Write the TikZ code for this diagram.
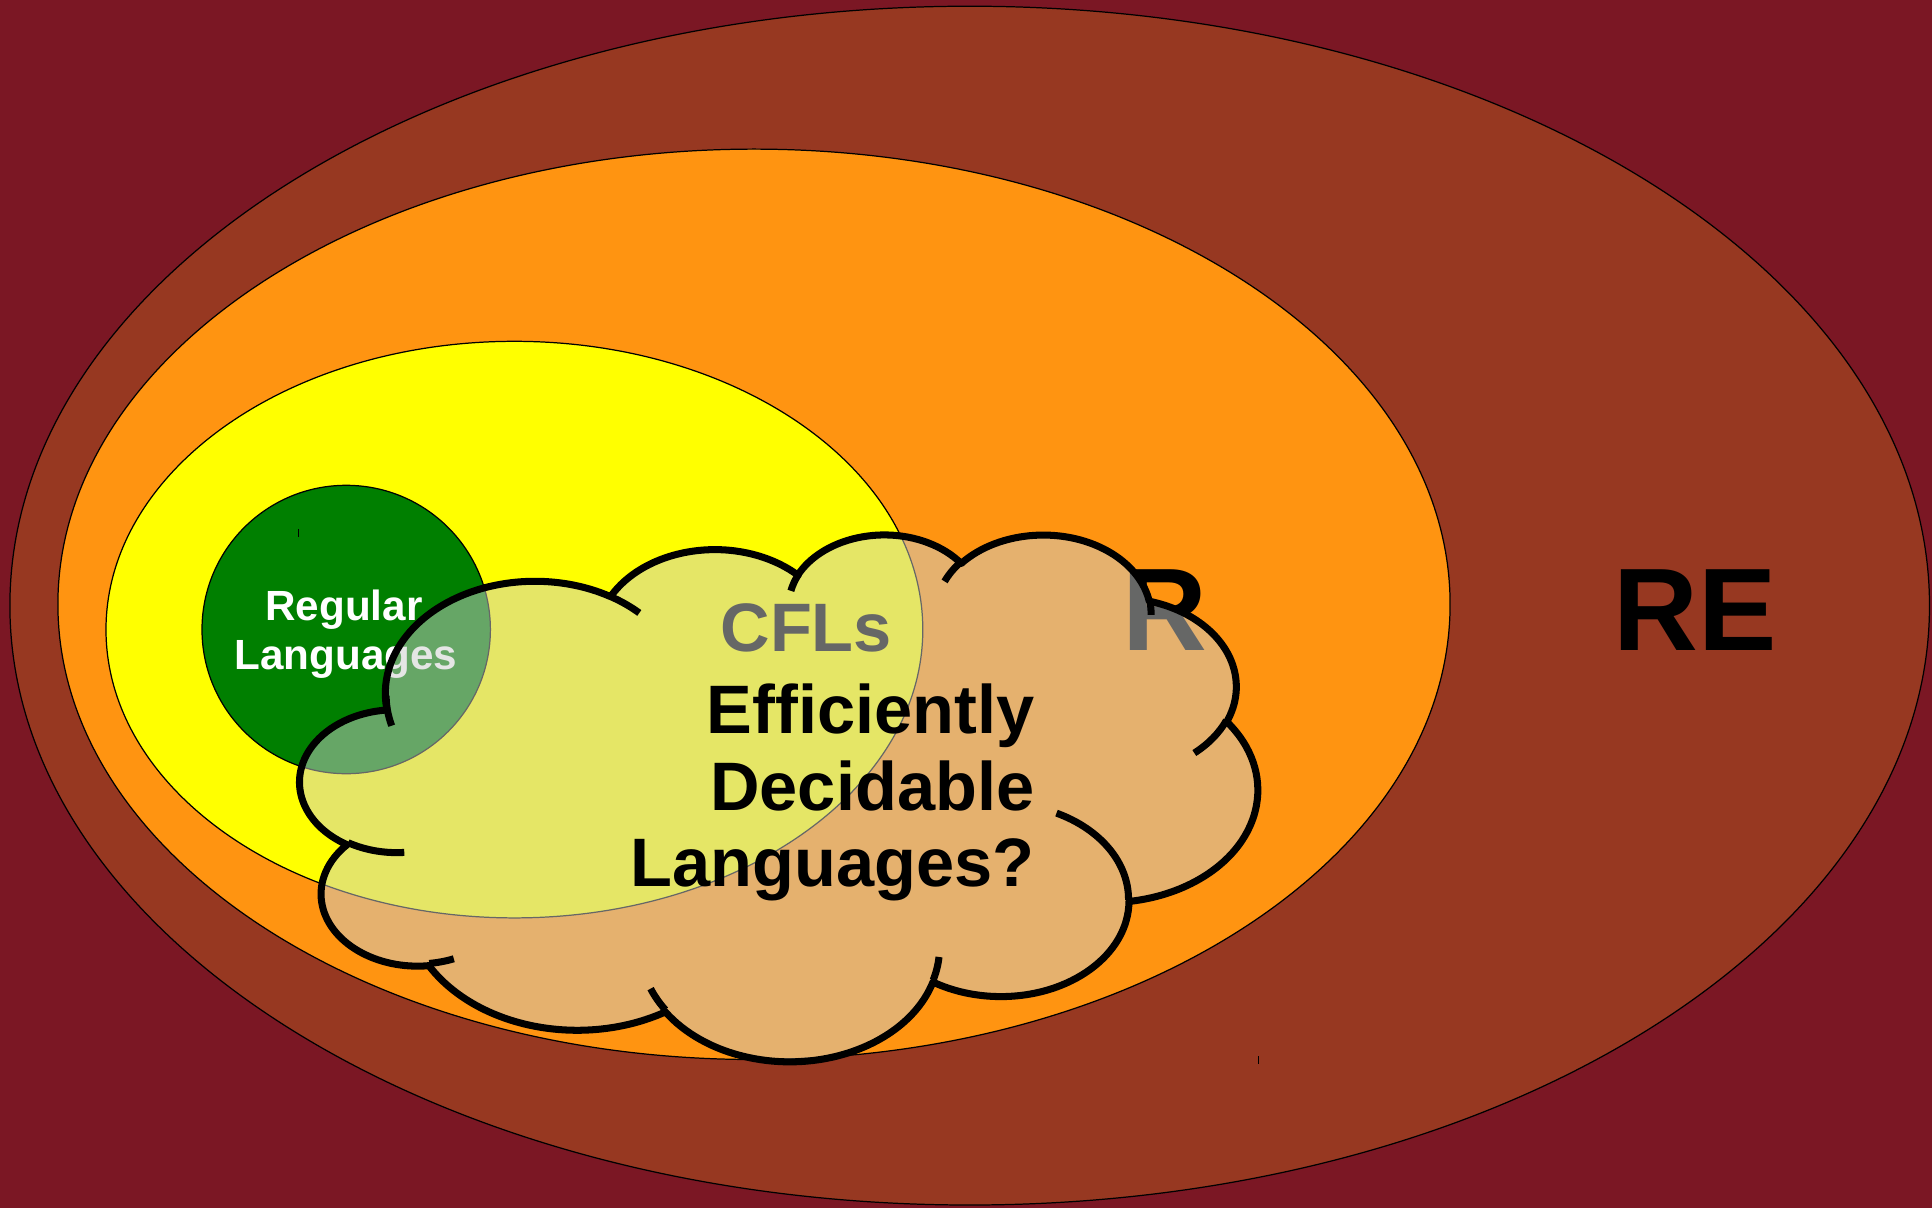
\documentclass[tikz,border=0pt]{standalone}
\usepackage{fontspec}
\setmainfont{Liberation Sans}[Ligatures=NoCommon]

\definecolor{bgred}{RGB}{123,23,36}
\definecolor{rebrown}{RGB}{151,56,33}
\definecolor{rorange}{RGB}{255,148,17}
\definecolor{cflyellow}{RGB}{255,255,0}
\definecolor{reggreen}{RGB}{0,127,0}
\definecolor{cloudgray}{RGB}{204,206,204}

% cloud outline: arcs given as in a 43200 x 43200 path box,
% radii wR, hR and visual start/sweep angles (degrees)
\def\cloudsx{0.022157}
\def\cloudsy{0.012194}
\newcommand\cloudarc[4]{%
  \pgfextra{%
    \pgfmathparse{atan2((#1)*sin(#3),(#2)*cos(#3))}\xdef\cloudT{\pgfmathresult}%
    \pgfmathparse{atan2((#1)*sin((#3)+(#4)),(#2)*cos((#3)+(#4)))}\xdef\cloudU{\pgfmathresult}%
    \pgfmathparse{mod((\cloudU)-(\cloudT)+720,360)}\xdef\cloudD{\pgfmathresult}%
    \pgfmathparse{(#1)*\cloudsx}\xdef\cloudRx{\pgfmathresult}%
    \pgfmathparse{(#2)*\cloudsy}\xdef\cloudRy{\pgfmathresult}%
  }%
  arc[start angle=\cloudT, delta angle=\cloudD, x radius=\cloudRx, y radius=\cloudRy]%
}

\begin{document}
\begin{tikzpicture}[x=0.01cm,y=-0.01cm,
  setline/.style={draw=black,line width=0.35pt},
  cloudline/.style={draw=black,line width=2pt,line join=round},
  bigsym/.style={font=\fontsize{33.4}{40}\selectfont\bfseries,inner sep=0pt,anchor=base},
  midlabel/.style={font=\fontsize{19.5}{23}\selectfont\bfseries,inner sep=0pt},
  reglabel/.style={font=\fontsize{12}{14}\selectfont\bfseries,text=white,inner sep=0pt,anchor=base}]

\fill[bgred] (0,0) rectangle (1932,1208);
\useasboundingbox (0,0) rectangle (1932,1208);

% nested classes of languages
\draw[setline,fill=rebrown] (969.7,605.6) ellipse [x radius=959.8, y radius=599.4];
\draw[setline,fill=rorange] (754,604.3) ellipse [x radius=696.1, y radius=455.2];
\draw[setline,fill=cflyellow] (514.4,629.6) ellipse [x radius=408.4, y radius=288.3];
\draw[setline,fill=reggreen] (346.2,629.5) circle [radius=144.2];

% small stray marks
\draw[black,line width=0.3pt] (298.3,529) -- (298.3,537);
\draw[black,line width=0.3pt] (1258.3,1056) -- (1258.3,1064);

\node[bigsym] (re) at (1695,650) {RE};
\node[bigsym] (r) at (1164.5,650) {R};
\node[midlabel,anchor=base] (cfl) at (806.3,651) {CFLs};
\node[reglabel] (reg1) at (344,620) {Regular};
\node[reglabel] (reg2) at (346,669) {Languages};

% translucent cloud
\draw[cloudline,fill=cloudgray,fill opacity=0.5] (386.7,708.4)
  \cloudarc{6753}{9190}{-190.48748}{123.78053}
  \cloudarc{5333}{7267}{-144.10238}{89.94523}
  \cloudarc{4365}{5945}{-145.80792}{99.72302}
  \cloudarc{4857}{6595}{-130.98607}{117.24173}
  \cloudarc{5333}{7273}{-78.70888}{109.02692}
  \cloudarc{6775}{9220}{-46.26725}{130.269}
  \cloudarc{5785}{7867}{0.62502}{114.03333}
  \cloudarc{6752}{9215}{22.4516}{115.17255}
  \cloudarc{7720}{10543}{66.24263}{75.71102}
  \cloudarc{4360}{5918}{-274.94208}{146.73557}
  \cloudarc{4345}{5945}{-246.8285}{152.51885}
  -- cycle;

% inner strokes of the cloud
\draw[cloudline]
  (404.28,852.4) \cloudarc{4345}{5945}{86.742}{26.4295}
  (453.8,958.76) \cloudarc{4360}{5918}{73.61047}{11.44747}
  (665.4,1009.86) \cloudarc{6752}{9215}{137.62415}{14.0811}
  (939.0,956.95) \cloudarc{6752}{9215}{6.45327}{15.99835}
  (1056.5,813.1) \cloudarc{5785}{7867}{-70.29235}{70.91737}
  (1226.4,720.4) \cloudarc{5333}{7273}{30.31803}{27.7515}
  (1149.4,599.4) \cloudarc{4857}{6595}{-13.74433}{14.8589}
  (944.6,581.4) \cloudarc{4857}{6595}{-149.18145}{18.19537}
  (790.9,590.8) \cloudarc{4365}{5945}{-163.49427}{17.68635}
  (610.5,596.5) \cloudarc{6753}{9190}{-66.70695}{12.31935}
  (391.7,725.7) \cloudarc{6753}{9190}{159.12255}{20.76162};

\node[midlabel,anchor=base east] (eff) at (1035,733.3) {Efficiently};
\node[midlabel,anchor=base east] (dec) at (1035,810) {Decidable};
\node[midlabel,anchor=base east] (lang) at (1035,886.7) {Languages?};

\end{tikzpicture}
\end{document}
